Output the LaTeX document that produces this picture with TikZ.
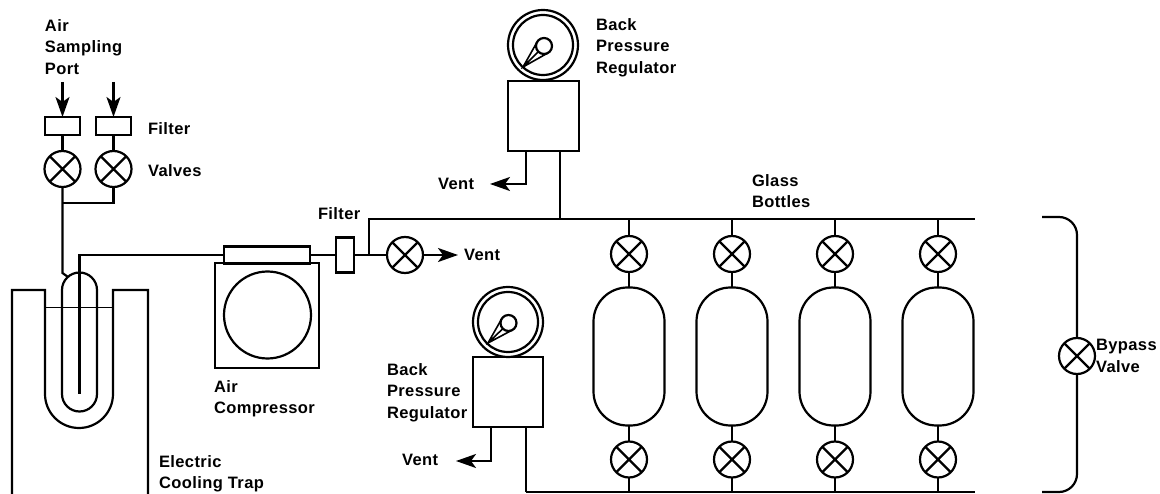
\documentclass[tikz,border=0pt]{standalone}
\usepackage{fontspec}
\setmainfont[BoldFont={Liberation Sans Bold},LetterSpace=2.5]{Liberation Sans}
\usetikzlibrary{arrows.meta}
\tikzset{
  pipe/.style={line width=2.2pt,line join=miter},
  tipstyle/.style={-{Stealth[length=20pt,width=14pt,inset=5pt]}},
  flow/.style={pipe,tipstyle},
  valve/.style={circle,draw,line width=2.2pt,minimum size=36pt,inner sep=0pt,outer sep=0pt,
    path picture={\draw[line width=2.2pt] (path picture bounding box.north west)--(path picture bounding box.south east)
      (path picture bounding box.north east)--(path picture bounding box.south west);}},
  boxnode/.style={rectangle,draw,line width=2.2pt,inner sep=0pt,outer sep=0pt},
  bottle/.style={boxnode,minimum width=71pt,minimum height=138pt,rounded corners=34pt},
  ring/.style={circle,draw,line width=2.2pt,inner sep=0pt,outer sep=0pt},
  lbl/.style={anchor=north west,inner sep=0pt,outer sep=0pt,align=left,font=\fontsize{16.5}{21.5}\selectfont\bfseries,text=black}
}
\begin{document}
\begin{tikzpicture}[x=1pt,y=-1pt]
\useasboundingbox (0,0) rectangle (1160,494);
\fill[white] (0,0) rectangle (1160,494);
% inlet branch
\node[boxnode,minimum width=35pt,minimum height=18pt] (f1) at (62.5,126) {};
\node[boxnode,minimum width=35pt,minimum height=18pt] (f2) at (113.5,126) {};
\node[valve] (v1) at (62.5,169) {};
\node[valve] (v2) at (113.5,169) {};
\coordinate (a1) at (62.5,82);
\coordinate (a2) at (113.5,82);
\draw[flow] (a1) -- (f1.north);
\draw[flow] (a2) -- (f2.north);
\draw[pipe] (f1) -- (v1);
\draw[pipe] (f2) -- (v2);
\coordinate (j1) at (62.5,203);
\coordinate (t1) at (68,277);
\draw[pipe] (v1.south) -- (j1) -- (62.5,273) -- (t1);
\draw[pipe] (v2.south) |- (j1);
% cooling trap
\draw[pipe] (12,494) -- (12,290) -- (45,290) -- (45,394) arc[start angle=180,end angle=0,radius=34] -- (113,290) -- (148,290) -- (148,494);
\draw[line width=1pt] (45,308) -- (113,308);
\draw[pipe] (62,290) arc[start angle=180,end angle=360,radius=17.5] -- (97,394) arc[start angle=0,end angle=180,radius=17.5] -- cycle;
% compressor
\node[boxnode,minimum width=104pt,minimum height=105pt] (cb) at (267,315.5) {};
\node[boxnode,minimum width=86pt,minimum height=17pt] (ct) at (267,255) {};
\node[ring,minimum size=87pt] (cc) at (267.5,315) {};
\coordinate (p0) at (79.5,394);
\draw[pipe] (p0) -- (79.5,255) -- (ct.west);
% filter and vent valve
\node[boxnode,minimum width=18pt,minimum height=35pt] (f3) at (345,255) {};
\node[valve] (v3) at (405,255) {};
\coordinate (ve) at (458,255);
\coordinate (j2) at (369,255);
\draw[pipe] (ct.east) -- (f3.west);
\draw[pipe] (f3.east) -- (v3.west);
\draw[flow] (v3.east) -- (ve);
% headers
\coordinate (hs) at (369,219);
\coordinate (he) at (975,219);
\coordinate (bs) at (526,492);
\coordinate (be) at (975,492);
\draw[pipe] (j2) -- (hs) -- (he);
\draw[pipe] (bs) -- (be);
% upper regulator
\node[ring,minimum size=70pt] (g1) at (543,45) {};
\node[ring,minimum size=60pt] (g1i) at (543,45) {};
\node[ring,minimum size=16pt] (h1) at (544,46) {};
\coordinate (n1) at (523,67);
\draw[line width=1.6pt] (h1.155) -- (n1) -- (h1.295) (n1) -- (h1.225);
\node[boxnode,minimum width=71pt,minimum height=70pt] (r1) at (543.5,116) {};
\coordinate (r1o) at (526,151);
\coordinate (r1t) at (560,151);
\coordinate (r1a) at (490,184);
\draw[flow] (r1o) |- (r1a);
\draw[pipe] (r1t) -- (560,219);
% lower regulator
\node[ring,minimum size=70pt] (g2) at (508,322) {};
\node[ring,minimum size=60pt] (g2i) at (508,322) {};
\node[ring,minimum size=16pt] (h2) at (508.5,323) {};
\coordinate (n2) at (488,343);
\draw[line width=1.6pt] (h2.155) -- (n2) -- (h2.295) (n2) -- (h2.225);
\node[boxnode,minimum width=70pt,minimum height=70pt] (r2) at (508,392) {};
\coordinate (r2o) at (491,427);
\coordinate (r2t) at (526,427);
\coordinate (r2a) at (456,461);
\draw[flow] (r2o) |- (r2a);
\draw[pipe] (r2t) -- (bs);
% bottles
\foreach \n/\x in {a/629,b/732,c/835,d/938}{
  \node[valve] (vt\n) at (\x,254) {};
  \node[bottle] (bt\n) at (\x,356.5) {};
  \node[valve] (vb\n) at (\x,459.5) {};
  \coordinate (ht\n) at (\x,219);
  \coordinate (hb\n) at (\x,492);
  \draw[pipe] (ht\n) -- (vt\n.north) (vt\n.south) -- (bt\n.north) (bt\n.south) -- (vb\n.north) (vb\n.south) -- (hb\n);
}
% bypass
\node[valve] (vp) at (1077,356) {};
\draw[pipe,rounded corners=18pt] (1042,217) -- (1077,217) -- (vp.north);
\draw[pipe,rounded corners=18pt] (1042,492) -- (1077,492) -- (vp.south);
% labels
\node[lbl] (t1a) at (45,19.5) {Air\\Sampling\\Port};
\node[lbl] (t2) at (148,122.5) {Filter};
\node[lbl] (t3) at (148,164.5) {Valves};
\node[lbl] (t4) at (318,207.5) {Filter};
\node[lbl] (t5) at (214,380.5) {Air\\Compressor};
\node[lbl] (t6) at (159,455.5) {Electric\\Cooling Trap};
\node[lbl] (t7) at (596,18.5) {Back\\Pressure\\Regulator};
\node[lbl] (t8) at (438,178.5) {Vent};
\node[lbl] (t9) at (464,249.5) {Vent};
\node[lbl] (t10) at (387,363.5) {Back\\Pressure\\Regulator};
\node[lbl] (t11) at (402,454.5) {Vent};
\node[lbl] (t12) at (752,174.5) {Glass\\Bottles};
\node[lbl] (t13) at (1096,339.5) {Bypass\\Valve};
\end{tikzpicture}
\end{document}
